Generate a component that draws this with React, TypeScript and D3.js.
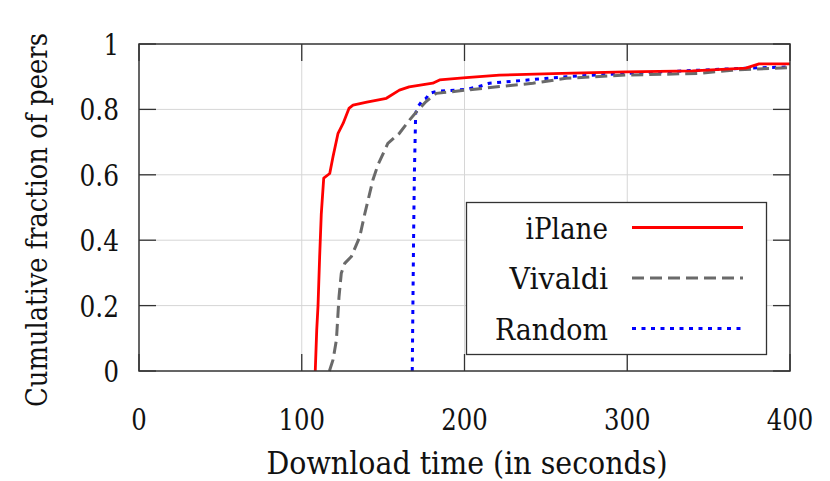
import { useEffect, useRef } from 'react'
import * as d3 from 'd3'

// CDF samples (download time in s, cumulative fraction)
const iplaneX = [108.3, 109.2, 110, 111, 112, 113.5, 117.2, 119.2, 122.3, 125.4, 129, 131.5, 140, 152, 160, 166, 180.5, 184.7, 201, 221.5, 260, 299, 340, 372.8, 381, 400]
const iplaneY = [0, 0.125, 0.2, 0.35, 0.48, 0.59, 0.604, 0.655, 0.727, 0.757, 0.803, 0.813, 0.822, 0.834, 0.859, 0.869, 0.88, 0.89, 0.897, 0.905, 0.91, 0.915, 0.918, 0.926, 0.939, 0.939]

const vivaldiX = [117, 119.2, 121.3, 122.9, 124.3, 126.4, 130.5, 135.6, 138.7, 143.7, 146.8, 152.9, 160, 166.3, 171.4, 176.4, 182.6, 201, 221.5, 242, 262.4, 299, 344, 364.6, 400]
const vivaldiY = [0, 0.034, 0.095, 0.227, 0.299, 0.329, 0.35, 0.41, 0.48, 0.584, 0.63, 0.696, 0.727, 0.768, 0.798, 0.824, 0.849, 0.859, 0.87, 0.88, 0.895, 0.905, 0.91, 0.92, 0.928]

const randomX = [167.9, 168.7, 169.2, 170, 171.4, 174.4, 176.4, 178.5, 182.6, 201, 209, 215.3, 262.4, 299, 372.8, 400]
const randomY = [0, 0.4, 0.6, 0.789, 0.808, 0.829, 0.834, 0.849, 0.855, 0.861, 0.87, 0.88, 0.9, 0.91, 0.926, 0.93]

const xTicks = [0, 100, 200, 300, 400]
const yTicks = [0, 0.2, 0.4, 0.6, 0.8, 1]
const seriesNames = ['iPlane', 'Vivaldi', 'Random']

// only a wide serif is installed, so squeeze it to a Times-like width
const FONT = 'DejaVu Serif, serif'
const labelWidth = (s: string) => s.length * 15.5 - (s.includes('.') ? 7 : 0)
const legendWidths = [82.5, 98.5, 113]

export default function App() {
  const ref = useRef<SVGSVGElement>(null)

  useEffect(() => {
    const svg = d3.select(ref.current)
    svg.selectAll('*').remove()

    const left = 139
    const right = 790
    const top = 44
    const bottom = 371

    const x = d3.scaleLinear().domain([0, 400]).range([left, right])
    const y = d3.scaleLinear().domain([0, 1]).range([bottom, top])

    // grid
    const grid = svg.append('g').attr('stroke', '#d6d6d6').attr('stroke-width', 1)
    xTicks.slice(1, -1).forEach((t) => {
      grid.append('line').attr('x1', x(t)).attr('x2', x(t)).attr('y1', top).attr('y2', bottom)
    })
    yTicks.slice(1, -1).forEach((t) => {
      grid.append('line').attr('x1', left).attr('x2', right).attr('y1', y(t)).attr('y2', y(t))
    })

    // ticks, mirrored on all sides
    const tl = 17
    const ticks = svg.append('g').attr('stroke', '#333').attr('stroke-width', 1.3)
    xTicks.forEach((t) => {
      ticks.append('line').attr('x1', x(t)).attr('x2', x(t)).attr('y1', bottom).attr('y2', bottom - tl)
      ticks.append('line').attr('x1', x(t)).attr('x2', x(t)).attr('y1', top).attr('y2', top + tl)
    })
    yTicks.forEach((t) => {
      ticks.append('line').attr('x1', left).attr('x2', left + tl).attr('y1', y(t)).attr('y2', y(t))
      ticks.append('line').attr('x1', right).attr('x2', right - tl).attr('y1', y(t)).attr('y2', y(t))
    })

    const txt = (sel: d3.Selection<SVGTextElement, any, any, any>, size: number) =>
      sel
        .attr('font-family', FONT)
        .attr('font-size', size)
        .attr('fill', '#111')
        .attr('lengthAdjust', 'spacingAndGlyphs')

    // tick labels
    txt(
      svg
        .append('g')
        .selectAll('text')
        .data(xTicks)
        .enter()
        .append('text')
        .attr('x', (d) => x(d))
        .attr('y', 430)
        .attr('text-anchor', 'middle')
        .attr('textLength', (d) => labelWidth(String(d)))
        .text((d) => d),
      30
    )

    txt(
      svg
        .append('g')
        .selectAll('text')
        .data(yTicks)
        .enter()
        .append('text')
        .attr('x', 119)
        .attr('y', (d) => y(d) + 11)
        .attr('text-anchor', 'end')
        .attr('textLength', (d) => labelWidth(d3.format('~g')(d)))
        .text((d) => d3.format('~g')(d)),
      30
    )

    // axis titles
    txt(
      svg
        .append('text')
        .attr('x', 467)
        .attr('y', 474)
        .attr('text-anchor', 'middle')
        .attr('textLength', 401)
        .text('Download time (in seconds)'),
      31
    )

    // y title: smaller font, stretched to the reference height/length
    const yTitle = svg
      .append('text')
      .attr('text-anchor', 'middle')
      .attr('font-family', FONT)
      .attr('font-size', 25)
      .attr('fill', '#111')
      .text('Cumulative fraction of peers')
    const natural = (yTitle.node() as SVGTextElement).getComputedTextLength() || 374
    yTitle.attr(
      'transform',
      `translate(47,220) rotate(-90) scale(${374 / natural},1.2)`
    )

    // series
    const series = [
      { name: seriesNames[0], xs: iplaneX, ys: iplaneY, color: '#ff0000', width: 2.8, dash: null },
      { name: seriesNames[1], xs: vivaldiX, ys: vivaldiY, color: '#6a6a6a', width: 3, dash: '12,6' },
      { name: seriesNames[2], xs: randomX, ys: randomY, color: '#0000ff', width: 3, dash: '4,5.5' },
    ]

    const path = d3
      .line<[number, number]>()
      .x((d) => x(d[0]))
      .y((d) => y(d[1]))

    const plot = svg.append('g')
    series
      .slice()
      .reverse()
      .forEach((s) => {
        const pts = s.xs.map((v, i) => [v, s.ys[i]] as [number, number])
        plot
          .append('path')
          .attr('d', path(pts))
          .attr('fill', 'none')
          .attr('stroke', s.color)
          .attr('stroke-width', s.width)
          .attr('stroke-dasharray', s.dash)
          .attr('stroke-linejoin', 'round')
      })

    // legend
    const lg = svg.append('g')
    lg.append('rect')
      .attr('x', 466.5)
      .attr('y', 202.5)
      .attr('width', 300)
      .attr('height', 152)
      .attr('fill', '#fff')
      .attr('stroke', '#333')
      .attr('stroke-width', 1.3)

    series.forEach((s, i) => {
      const ly = 227.5 + i * 50.5
      txt(
        lg
          .append('text')
          .attr('x', 608)
          .attr('y', ly + 11)
          .attr('text-anchor', 'end')
          .attr('textLength', legendWidths[i])
          .text(s.name),
        30
      )
      lg.append('line')
        .attr('x1', 632)
        .attr('x2', 743)
        .attr('y1', ly)
        .attr('y2', ly)
        .attr('stroke', s.color)
        .attr('stroke-width', s.width)
        .attr('stroke-dasharray', s.dash)
    })

    // frame
    svg
      .append('rect')
      .attr('x', left)
      .attr('y', top)
      .attr('width', right - left)
      .attr('height', bottom - top)
      .attr('fill', 'none')
      .attr('stroke', '#333')
      .attr('stroke-width', 1.5)
  }, [])

  return (
    <svg
      ref={ref}
      width={830}
      height={481}
      style={{ position: 'absolute', left: 0, top: 0, background: '#fff' }}
    />
  )
}
